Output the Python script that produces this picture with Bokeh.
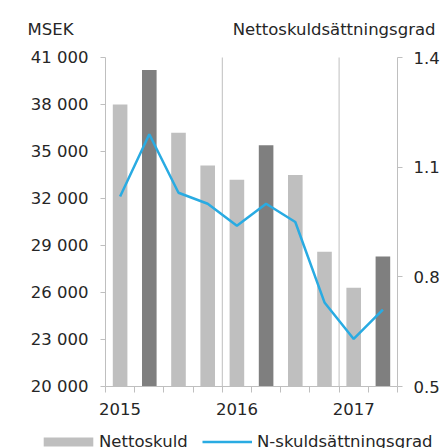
from bokeh.plotting import figure
from bokeh.models import (ColumnDataSource, Range1d, LinearAxis, FixedTicker,
                          Label, Legend, LegendItem)
from bokeh.embed import file_html
from bokeh.resources import INLINE

# ---- data ----
years = ["2015", "2016", "2017"]
year_first_index = [0, 4, 8]
quarters = ["2015 Q1", "2015 Q2", "2015 Q3", "2015 Q4",
            "2016 Q1", "2016 Q2", "2016 Q3", "2016 Q4",
            "2017 Q1", "2017 Q2"]
nettoskuld = [38000, 40200, 36200, 34100, 33200, 35400, 33500, 28600, 26300, 28300]
dark_bar = [False, True, False, False, False, True, False, False, False, True]
skuldsattningsgrad = [1.02, 1.19, 1.03, 1.00, 0.94, 1.00, 0.95, 0.73, 0.63, 0.71]
left_ticks = [20000, 23000, 26000, 29000, 32000, 35000, 38000, 41000]
left_tick_labels = ["20 000", "23 000", "26 000", "29 000", "32 000", "35 000", "38 000", "41 000"]
right_ticks = [0.5, 0.8, 1.1, 1.4]
right_tick_labels = ["0.5", "0.8", "1.1", "1.4"]
left_title = "MSEK"
right_title = "Nettoskuldsättningsgrad"
series_names = ["Nettoskuld", "N-skuldsättningsgrad"]

# ---- style / layout (pixels) ----
FONT = "DejaVu Sans"
FS = "16.5px"
TXT = "#262626"
GREY = "#BFBFBF"
DARK = "#7F7F7F"
BLUE = "#29ABE2"
W, H = 447, 448
PL, PR, PT, PB = 105, 397, 57, 386   # plotting area inside the canvas

n = len(quarters)
x_lo, x_hi = -0.5, n - 0.5
y_lo, y_hi = left_ticks[0], left_ticks[-1]
r_lo, r_hi = right_ticks[0], right_ticks[-1]

xpx = (PR - PL) / (x_hi - x_lo)
ypx = (PB - PT) / (y_hi - y_lo)
rpx = (PB - PT) / (r_hi - r_lo)

x_range = Range1d(x_lo - PL / xpx, x_hi + (W - PR) / xpx)
y_range = Range1d(y_lo - (H - PB) / ypx, y_hi + PT / ypx)
r_range = Range1d(r_lo - (H - PB) / rpx, r_hi + PT / rpx)

src = ColumnDataSource(dict(
    x=list(range(n)), q=quarters, top=nettoskuld,
    color=[DARK if d else GREY for d in dark_bar],
    ratio=skuldsattningsgrad))

p = figure(width=W, height=H, x_range=x_range, y_range=y_range,
           output_backend="svg", toolbar_location=None, title=None,
           min_border=0)
p.min_border_left = p.min_border_right = p.min_border_top = p.min_border_bottom = 0
p.outline_line_color = None
p.grid.visible = False
p.extra_y_ranges = {"ratio": r_range}

# year separators
sep_x = [i - 0.5 for i in year_first_index[1:]]
p.segment(x0=sep_x, x1=sep_x, y0=[y_lo] * len(sep_x), y1=[y_hi] * len(sep_x),
          line_color=GREY, line_width=1)

bars = p.vbar(x="x", top="top", bottom=y_lo, width=0.5, source=src,
              fill_color="color", line_color=None)
line = p.line(x="x", y="ratio", source=src, y_range_name="ratio",
              line_color=BLUE, line_width=2.5)


def style_axis(ax):
    ax.axis_line_color = GREY
    ax.axis_line_width = 1
    ax.major_tick_line_color = GREY
    ax.minor_tick_line_color = GREY
    ax.major_label_text_font = FONT
    ax.major_label_text_font_size = FS
    ax.major_label_text_color = TXT


xax = p.xaxis[0]
xax.fixed_location = y_lo
xax.bounds = (x_lo, x_hi)
xax.ticker = FixedTicker(ticks=year_first_index,
                         minor_ticks=[i - 0.5 for i in range(n + 1)])
xax.major_label_overrides = dict(zip(year_first_index, years))
style_axis(xax)
xax.major_tick_out = 0
xax.major_tick_in = 0
xax.minor_tick_out = 6
xax.minor_tick_in = 0
xax.major_label_standoff = 10

yax = p.yaxis[0]
yax.fixed_location = x_lo
yax.bounds = (y_lo, y_hi)
yax.ticker = FixedTicker(ticks=left_ticks, minor_ticks=[])
yax.major_label_overrides = dict(zip(left_ticks, left_tick_labels))
style_axis(yax)
yax.major_tick_out = 5
yax.major_tick_in = 0
yax.minor_tick_out = 0
yax.major_label_standoff = 12

rax = LinearAxis(y_range_name="ratio", fixed_location=x_hi, bounds=(r_lo, r_hi),
                 ticker=FixedTicker(ticks=right_ticks, minor_ticks=[]))
rax.major_label_overrides = dict(zip(right_ticks, right_tick_labels))
style_axis(rax)
rax.major_tick_out = 5
rax.major_tick_in = 0
rax.minor_tick_out = 0
rax.major_label_standoff = 11
p.add_layout(rax, "right")

# axis titles (screen units, from bottom-left of canvas)
for txt, x, align in [(left_title, 27, "left"), (right_title, 435, "right")]:
    p.add_layout(Label(x=x, y=H - 29, x_units="screen", y_units="screen",
                       text=txt, text_align=align, text_baseline="alphabetic",
                       text_font=FONT, text_font_size=FS, text_color=TXT))


def make_legend(label, rend, loc, gw, standoff):
    lg = Legend(items=[LegendItem(label=label, renderers=[rend], index=0)],
                location=loc, orientation="horizontal",
                glyph_width=gw, glyph_height=11, label_standoff=standoff,
                label_height=20, padding=0, margin=0, border_line_color=None,
                background_fill_alpha=0,
                label_text_font=FONT, label_text_font_size=FS,
                label_text_color=TXT)
    p.add_layout(lg)


make_legend(series_names[0], bars, (37, -3), 62, 0)
make_legend(series_names[1], line, (202, -3), 50, 5)

open("out.html", "w").write(file_html(p, INLINE))
